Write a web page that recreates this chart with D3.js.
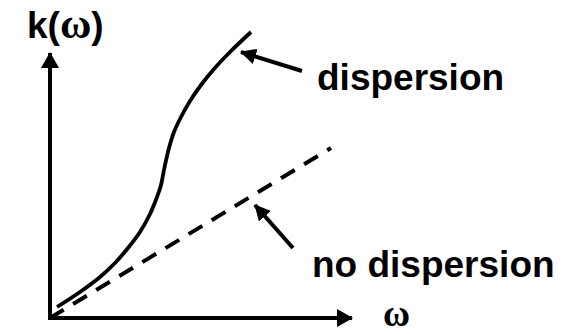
<!DOCTYPE html>
<html><head><meta charset="utf-8">
<script src="https://cdn.jsdelivr.net/npm/d3@7"></script>
<style>body{margin:0;background:#fff}svg{display:block}</style>
</head><body>
<script>
// data (arbitrary units)
const omegaDisp = [7, 30, 50, 65, 78, 90, 100, 107, 111, 113, 115, 119, 124, 131, 140, 151, 164, 180, 201];
const kDisp     = [11, 26, 41, 55, 70, 86, 104, 121, 133, 143, 153, 170, 186, 201, 217, 233, 249, 266, 286];
const omegaLin = [0, 281];
const kLin     = [0, 170];
const axisMax = [302, 265]; // x-axis length, y-axis length in data units
const labels = {y: "k(", yw: "ω", yc: ")", x: "ω", disp: "dispersion", nodisp: "no dispersion"};

const W = 572, H = 334;
const svg = d3.select("body").append("svg").attr("width", W).attr("height", H);
const x = d3.scaleLinear().domain([0, 300]).range([50, 350]);
const y = d3.scaleLinear().domain([0, 300]).range([318, 18]);

const defs = svg.append("defs");
defs.append("marker").attr("id","ah").attr("viewBox","0 0 16 18").attr("refX",15).attr("refY",9)
  .attr("markerWidth",16).attr("markerHeight",18).attr("markerUnits","userSpaceOnUse").attr("orient","auto")
  .append("path").attr("d","M0,0 L16,9 L0,18 Z").attr("fill","#000");
defs.append("marker").attr("id","ah2").attr("viewBox","0 0 16 16").attr("refX",15).attr("refY",8)
  .attr("markerWidth",16).attr("markerHeight",16).attr("markerUnits","userSpaceOnUse").attr("orient","auto")
  .append("path").attr("d","M0,0 L16,8 L0,16 Z").attr("fill","#000");

// axes
svg.append("line").attr("x1", x(0)).attr("y1", y(0)+2).attr("x2", x(0)).attr("y2", y(axisMax[1]))
  .attr("stroke","#000").attr("stroke-width",4).attr("marker-end","url(#ah)");
svg.append("line").attr("x1", x(0)-2).attr("y1", y(0)).attr("x2", x(axisMax[0])).attr("y2", y(0))
  .attr("stroke","#000").attr("stroke-width",4).attr("marker-end","url(#ah)");

// lines
const line = d3.line().x(d => x(d[0])).y(d => y(d[1])).curve(d3.curveCatmullRom.alpha(0.5));
svg.append("path").datum(omegaDisp.map((o,i)=>[o,kDisp[i]])).attr("d", line)
  .attr("fill","none").attr("stroke","#000").attr("stroke-width",3.8);
svg.append("path").datum(omegaLin.map((o,i)=>[o,kLin[i]])).attr("d", d3.line().x(d=>x(d[0])).y(d=>y(d[1])))
  .attr("fill","none").attr("stroke","#000").attr("stroke-width",4).attr("stroke-dasharray","16,11");

// pointer arrows
svg.append("line").attr("x1",302).attr("y1",71).attr("x2",241).attr("y2",52)
  .attr("stroke","#000").attr("stroke-width",4).attr("marker-end","url(#ah2)");
svg.append("line").attr("x1",293).attr("y1",248).attr("x2",255).attr("y2",205)
  .attr("stroke","#000").attr("stroke-width",4).attr("marker-end","url(#ah2)");

// text
const font = "'Liberation Sans', Arial, sans-serif";
const t = svg.append("text").attr("x",27).attr("y",38).attr("font-family",font).attr("font-weight","bold").attr("font-size",37);
t.append("tspan").text(labels.y);
t.append("tspan").attr("font-family","'Liberation Serif', serif").attr("font-weight","bold").attr("font-size",43).text(labels.yw);
t.append("tspan").text(labels.yc);
svg.append("text").attr("x",317).attr("y",90).attr("font-family",font).attr("font-weight","bold").attr("font-size",37).text(labels.disp);
svg.append("text").attr("x",312).attr("y",277).attr("font-family",font).attr("font-weight","bold").attr("font-size",37).text(labels.nodisp);
svg.append("text").attr("x",383).attr("y",326).attr("font-family","'Liberation Serif', serif").attr("font-weight","bold").attr("font-size",37).text(labels.x);
</script>
</body></html>
